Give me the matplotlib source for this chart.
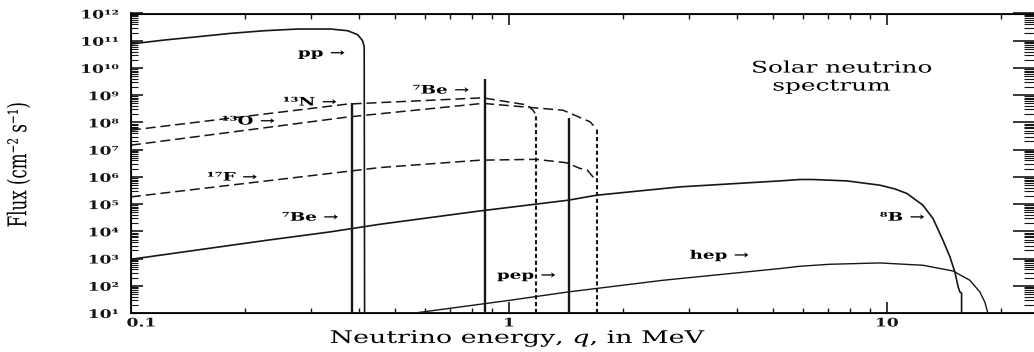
import numpy as np
import matplotlib
matplotlib.use('Agg')
import matplotlib.pyplot as plt
import matplotlib.patheffects as pe
from matplotlib.transforms import Affine2D
from matplotlib.ticker import LogLocator, NullFormatter, FuncFormatter


# continuum spectra: energy in MeV, flux in cm^-2 s^-1 (per MeV)
pp_energy = [0.100, 0.1225, 0.150, 0.184, 0.2253, 0.276, 0.338, 0.3745, 0.398, 0.410, 0.414, 0.415]
pp_flux = [7.6e10, 1.06e11, 1.40e11, 1.87e11, 2.33e11, 2.69e11, 2.69e11, 2.33e11, 1.66e11, 1.0e11,
           6.0e10, 10]

n13_energy = [0.100, 0.373, 0.853, 1.025, 1.116, 1.158, 1.179]
n13_flux = [5.2e7, 4.7e8, 8.0e8, 5.3e8, 4.4e8, 2.8e8, 1.9e8]

o15_energy = [0.100, 0.373, 0.853, 1.39, 1.64, 1.69, 1.71]
o15_flux = [1.46e7, 1.57e8, 5.0e8, 2.8e8, 1.05e8, 6.5e7, 5.2e7]

f17_energy = [0.100, 0.456, 0.838, 1.18, 1.42, 1.541, 1.61, 1.668, 1.71]
f17_flux = [1.84e5, 2.2e6, 4.1e6, 4.4e6, 3.3e6, 2.04e6, 1.8e6, 1.0e6, 8.0e5]

b8_energy = [0.100, 0.229, 0.336, 0.456, 0.838, 1.435, 1.706, 2.835, 5.21, 5.89, 6.37, 7.84,
             9.58, 10.5, 11.3, 12.45, 13.24, 14.07, 14.68, 15.13, 15.44, 15.60, 15.76, 15.76]
b8_flux = [9.4e2, 4.7e3, 9.5e3, 1.82e4, 5.6e4, 1.39e5, 2.12e5, 4.29e5, 7.1e5, 8.0e5, 8.0e5, 7.1e5,
           4.95e5, 3.6e5, 2.45e5, 9.1e4, 2.96e4, 4.7e3, 1.15e3, 321, 90, 59, 54, 10]

hep_energy = [0.564, 1.0, 1.43, 2.555, 5.21, 5.89, 7.07, 9.58, 12.45, 14.95, 16.58, 17.62,
              18.16, 18.5]
hep_flux = [10, 29, 59, 159, 429, 521, 617, 689, 567, 350, 159, 59, 25, 10]

# line sources (7Be x2, pep) and the cut-off edges of the CNO spectra
line_energy = [0.384, 0.862, 1.442]
line_flux = [5.1e8, 4.0e9, 1.4e8]
cutoff_energy = [1.18, 1.71]
cutoff_flux = [1.9e8, 5.2e7]

label_text = ['pp →', '⁷Be →', '¹³N →', '¹³O →', '¹⁷F →', '⁷Be →', 'pep →', 'hep →', '⁸B →']
label_energy = [0.2766, 0.557, 0.2524, 0.174, 0.159, 0.251, 0.93, 3.01, 9.58]
label_flux = [3.53e10, 1.54e9, 5.6e8, 1.12e8, 9.8e5, 3.3e4, 243, 1.32e3, 3.3e4]

SUP = str.maketrans('0123456789-', '⁰¹²³⁴⁵⁶⁷⁸⁹⁻')
WIDE = 1.55


class Widen(pe.AbstractPathEffect):
    """Draw glyph outlines stretched along the baseline (or across it)."""

    def __init__(self, factor=WIDE, anchor='center', across=False):
        super().__init__()
        self.factor = factor
        self.anchor = anchor
        self.across = across

    def draw_path(self, renderer, gc, tpath, affine, rgbFace=None):
        ext = tpath.get_extents()
        if self.across:
            y0 = (ext.y0 + ext.y1) / 2
            st = Affine2D().translate(0, -y0).scale(1, self.factor).translate(0, y0)
        else:
            x0 = {'left': ext.x0, 'right': ext.x1}.get(self.anchor, (ext.x0 + ext.x1) / 2)
            st = Affine2D().translate(-x0, 0).scale(self.factor, 1).translate(x0, 0)
        renderer.draw_path(gc, tpath, st + affine, rgbFace)


plt.rcParams['font.family'] = ['DejaVu Serif', 'DejaVu Sans']
plt.rcParams['mathtext.fontset'] = 'dejavuserif'

ink = '#161616'
fig = plt.figure(figsize=(10.34, 3.52), dpi=100)
ax = fig.add_axes([131 / 1034, 1 - 313 / 352, (1036 - 131) / 1034, 299.5 / 352])
ax.set_xscale('log')
ax.set_yscale('log')
ax.set_xlim(0.1, 24.8)
ax.set_ylim(10, 1e12)

dash = (0, (6.5, 3.2))
dot = (0, (2.0, 1.3))
ax.plot(pp_energy, pp_flux, color=ink, lw=1.2)
ax.plot(b8_energy, b8_flux, color=ink, lw=1.2)
ax.plot(hep_energy, hep_flux, color=ink, lw=1.0)
ax.plot(n13_energy, n13_flux, color=ink, lw=1.1, ls=dash)
ax.plot(o15_energy, o15_flux, color=ink, lw=1.1, ls=dash)
ax.plot(f17_energy, f17_flux, color=ink, lw=1.1, ls=dash)
ax.vlines(line_energy, 10, line_flux, color=ink, lw=1.7)
ax.vlines(cutoff_energy, 10, cutoff_flux, color=ink, lw=1.5, linestyles=[dot])

for s, e, f in zip(label_text, label_energy, label_flux):
    ax.text(e, f, s, fontsize=8.5, fontweight='bold', ha='left', va='center',
            path_effects=[Widen(anchor='left')])

ax.text(4.39, 9.9e9, 'Solar neutrino', fontsize=11.5, ha='left', va='center',
        path_effects=[Widen(anchor='left')])
ax.text(4.99, 2.16e9, 'spectrum', fontsize=11.5, ha='left', va='center',
        path_effects=[Widen(anchor='left')])

# axes, ticks
for sp in ax.spines.values():
    sp.set_linewidth(1.4)
    sp.set_color(ink)

ax.xaxis.set_major_locator(LogLocator(base=10, numticks=20))
ax.xaxis.set_minor_locator(LogLocator(base=10, subs=np.arange(2, 10), numticks=20))
ax.xaxis.set_major_formatter(FuncFormatter(lambda v, pos: f'{v:g}'))
ax.xaxis.set_minor_formatter(NullFormatter())
ax.yaxis.set_major_locator(LogLocator(base=10, numticks=20))
ax.yaxis.set_minor_locator(LogLocator(base=10, subs=np.arange(2, 10), numticks=20))
ax.yaxis.set_major_formatter(FuncFormatter(
    lambda v, pos: '10' + str(int(round(np.log10(v)))).translate(SUP)))
ax.yaxis.set_minor_formatter(NullFormatter())

ax.tick_params(which='both', direction='in', top=True, right=False, colors=ink)
ax.tick_params(axis='x', which='major', length=8, width=1.2, pad=2.5, labelsize=8.5)
ax.tick_params(axis='x', which='minor', length=3.6, width=1.0)
ax.tick_params(axis='y', which='major', length=8.5, width=1.2, pad=9, labelsize=8.5)
ax.tick_params(axis='y', which='minor', length=5, width=0.8)

for t in ax.xaxis.get_major_ticks():
    t.label1.set_fontweight('bold')
    t.label1.set_path_effects([Widen(factor=1.45)])
for t in ax.yaxis.get_major_ticks():
    t.label1.set_fontweight('bold')
    t.label1.set_path_effects([Widen(factor=1.45, anchor='right')])
ax.xaxis.get_major_ticks()[1].label1.set_horizontalalignment('left')

# right-hand ticks are longer than the left ones
ax2 = ax.twinx()
ax2.set_yscale('log')
ax2.set_ylim(ax.get_ylim())
ax2.yaxis.set_major_locator(LogLocator(base=10, numticks=20))
ax2.yaxis.set_minor_locator(LogLocator(base=10, subs=np.arange(2, 10), numticks=20))
ax2.tick_params(which='both', direction='in', labelright=False, colors=ink)
ax2.tick_params(which='major', length=16.5, width=1.2)
ax2.tick_params(which='minor', length=8.5, width=0.8)

fig.text(330 / 1034, 1 - 343 / 352, 'Neutrino energy, $q$, in MeV', fontsize=12.5,
         ha='left', va='baseline', path_effects=[Widen(anchor='left')])
fig.text(19 / 1034, 1 - 165 / 352, 'Flux (cm⁻² s⁻¹)', fontsize=12, rotation=90,
         ha='center', va='center', path_effects=[Widen(across=True)])

fig.savefig('out.png', dpi=100)
